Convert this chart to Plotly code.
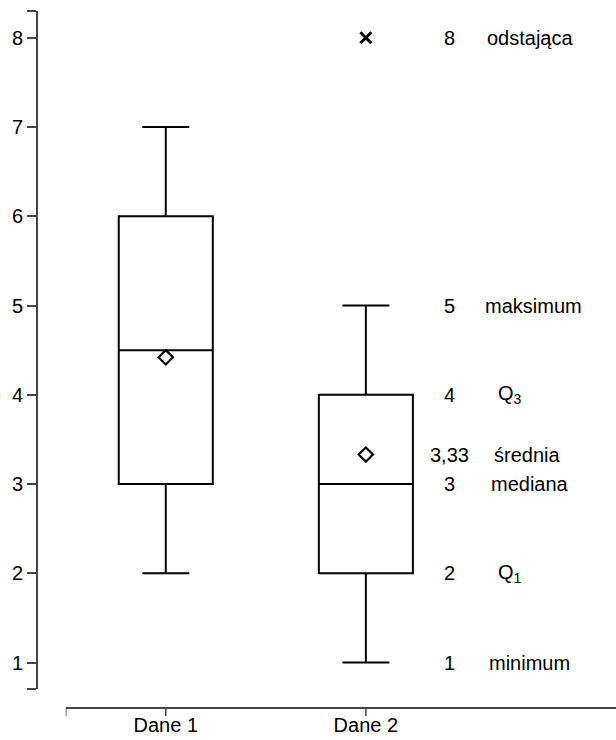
import plotly.graph_objects as go

# ---- data ----
categories = ["Dane 1", "Dane 2"]
minimum = [2, 1]
q1 = [3, 2]
median = [4.5, 3]
q3 = [6, 4]
maximum = [7, 5]
mean = [4.42, 3.33]
outlier_cat = ["Dane 2"]
outlier_val = [8]

label_values = [8, 5, 4, 3.33, 3, 2, 1]
label_numbers = ["8", "5", "4", "3,33", "3", "2", "1"]
label_names = ["odstająca", "maksimum", "Q<sub>3</sub>", "średnia", "mediana", "Q<sub>1</sub>", "minimum"]

y_ticks = [1, 2, 3, 4, 5, 6, 7, 8]

# ---- layout helpers (positions) ----
pos = {c: i + 1 for i, c in enumerate(categories)}
y_range = [0.7, 8.3]
x_range = [0.5, 3.25]
num_x = 2.42
name_x = [2.595, 2.585, 2.652, 2.632, 2.615, 2.652, 2.605]

FONT = "Arial, 'Liberation Sans', sans-serif"
FS = 20
AX = "#444444"
PLOT_H = 740 - 11 - 32

fig = go.Figure()
for i, c in enumerate(categories):
    fig.add_trace(go.Box(
        x=[pos[c]], q1=[q1[i]], median=[median[i]], q3=[q3[i]],
        lowerfence=[minimum[i]], upperfence=[maximum[i]],
        width=0.47, whiskerwidth=0.5, boxpoints=False,
        line=dict(color="black", width=2), fillcolor="rgba(0,0,0,0)",
        showlegend=False, hoverinfo="skip",
    ))

fig.add_trace(go.Scatter(
    x=[pos[c] for c in categories], y=mean, mode="markers",
    marker=dict(symbol="diamond-open", size=11, color="black", line=dict(width=2.2)),
    showlegend=False, hoverinfo="skip",
))
fig.add_trace(go.Scatter(
    x=[pos[c] for c in outlier_cat], y=outlier_val, mode="markers",
    marker=dict(symbol="x-thin-open", size=11, color="black", line=dict(width=3)),
    showlegend=False, hoverinfo="skip",
))

annotations = []
for v, n, nm, nx in zip(label_values, label_numbers, label_names, name_x):
    annotations.append(dict(x=num_x, y=v, xref="x", yref="y", text=n, showarrow=False,
                            xanchor="center", yanchor="middle",
                            font=dict(family=FONT, size=FS, color="black")))
    annotations.append(dict(x=nx, y=v, xref="x", yref="y", text=nm, showarrow=False,
                            xanchor="left", yanchor="middle",
                            font=dict(family=FONT, size=FS, color="black")))

x_tickvals = [x_range[0]] + [pos[c] for c in categories]
shapes = [dict(type="line", xref="x", yref="paper", x0=t, x1=t, y0=0, y1=-8 / PLOT_H,
               line=dict(color=AX, width=1.5), layer="above")
          for t in x_tickvals]
# x axis line
shapes.append(dict(type="line", xref="x", yref="paper", x0=x_range[0], x1=x_range[1],
                   y0=0, y1=0, line=dict(color=AX, width=2), layer="above"))

fig.update_layout(
    width=616, height=740,
    margin=dict(l=37, r=0, t=11, b=32, pad=0, autoexpand=False),
    paper_bgcolor="white", plot_bgcolor="white",
    boxmode="overlay",
    annotations=annotations,
    shapes=shapes,
    font=dict(family=FONT, size=FS, color="black"),
    xaxis=dict(
        range=x_range, domain=[0.0496, 1], anchor="free", position=0,
        automargin=False,
        showgrid=False, zeroline=False,
        showline=False,
        ticks="",
        ticklabelstandoff=3,
        tickvals=x_tickvals,
        ticktext=[""] + categories,
        tickfont=dict(family=FONT, size=FS, color="black"),
    ),
    yaxis=dict(
        range=y_range, domain=[0.0268, 1], anchor="free", position=0,
        automargin=False,
        showgrid=False, zeroline=False,
        showline=True, linecolor=AX, linewidth=2,
        ticks="outside", ticklen=9, tickwidth=1.5, tickcolor=AX,
        tickvals=[y_range[0]] + y_ticks + [y_range[1]],
        ticktext=[""] + [str(t) for t in y_ticks] + [""],
        tickfont=dict(family=FONT, size=FS, color="black"),
    ),
)

fig.write_html("out.html")
